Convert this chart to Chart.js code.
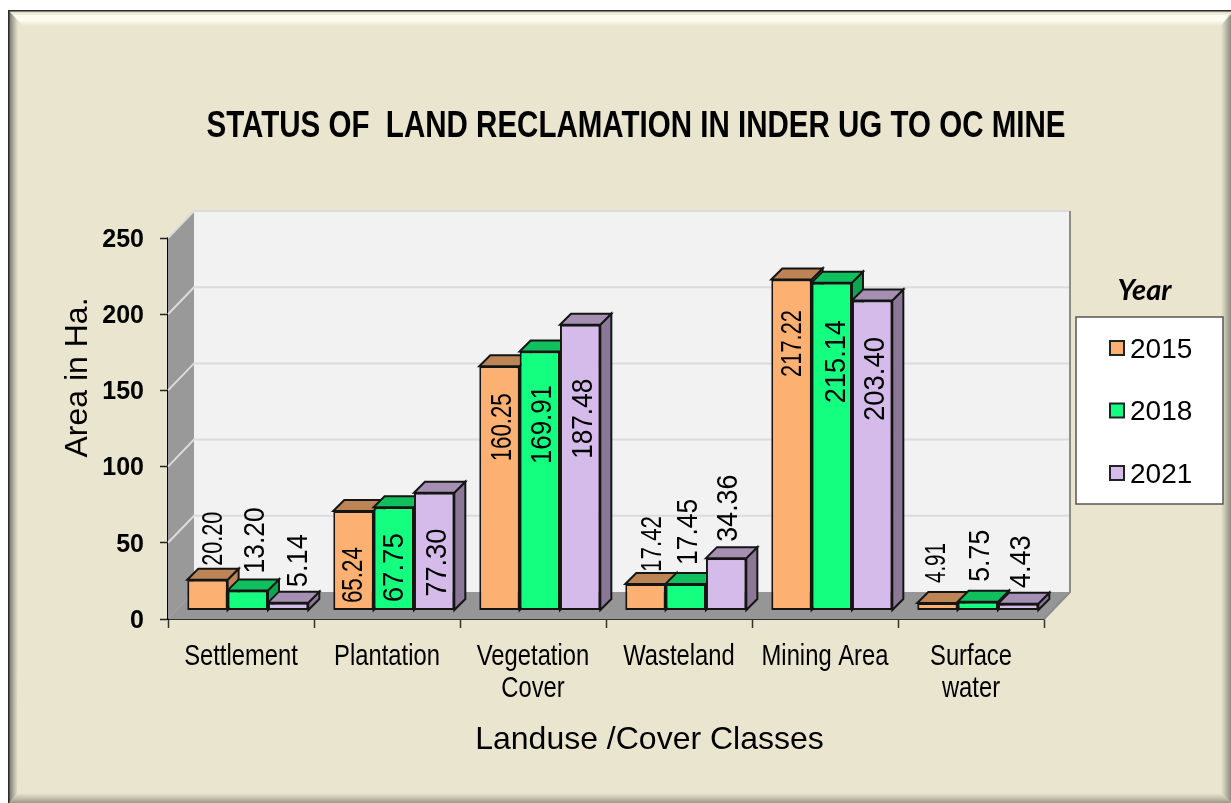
<!DOCTYPE html>
<html>
<head>
<meta charset="utf-8">
<title>Status of land reclamation</title>
<script src="https://cdn.jsdelivr.net/npm/chart.js@4"></script>
<style>
    html, body { margin: 0; padding: 0; background: #fff; }
    canvas { display: block; }
</style>
</head>
<body>
<canvas id="chart" width="1231" height="803"></canvas>
<script>
// Data
const categories = [['Settlement'], ['Plantation'], ['Vegetation', 'Cover'], ['Wasteland'], ['Mining Area'], ['Surface', 'water']];
const years = ['2015', '2018', '2021'];
const values2015 = [20.20, 65.24, 160.25, 17.42, 217.22, 4.91];
const values2018 = [13.20, 67.75, 169.91, 17.45, 215.14, 5.75];
const values2021 = [5.14, 77.30, 187.48, 34.36, 203.40, 4.43];
const yTicks = [0, 50, 100, 150, 200, 250];

const chartTitle = 'STATUS OF  LAND RECLAMATION IN INDER UG TO OC MINE';
const yTitle = 'Area in Ha.';
const xTitle = 'Landuse /Cover Classes';
const legendTitle = 'Year';

// Colours: front, top, side of each series
const front = ['#FCB173', '#14FF80', '#D5BBEA'];
const topFace = ['#BD8556', '#10C05F', '#A590B3'];
const sideFace = ['#BD8556', '#0DA650', '#8A7896'];

// The value labels were placed by hand in the original, so they are nudged
// from their bar: [dx, dy to bar top, text length]
const labelNudge = [
    [[5, -41, 54], [-1.5, 64, 56], [1.5, 61, 68], [5.5, -40, 56], [0, 64, 67], [-2.5, -40, 40]],
    [[6, -50, 66], [-1, 60.5, 69], [1, 73, 79], [1, -52, 66], [3, 79, 83], [1, -46, 52]],
    [[9, -42, 53], [2, 70, 68], [2, 94, 80], [1, -50, 67], [2, 78.5, 84], [2, -42, 53]]
];

const sansFont = '"Liberation Sans", Arial, sans-serif';

// 3D look: how far the back wall and the bars are pushed
const wall = { dx: 26, dy: -27 };
const barShift = { dx: 6.8, dy: -8.5 };
const barDepth = 11;
const barLine = 2;

function fillPoly(ctx, pts, fill, stroke, lineWidth) {
    ctx.beginPath();
    pts.forEach((p, i) => i ? ctx.lineTo(p[0], p[1]) : ctx.moveTo(p[0], p[1]));
    ctx.closePath();
    if (fill) {
        ctx.fillStyle = fill;
        ctx.fill();
    }
    if (stroke) {
        ctx.strokeStyle = stroke;
        ctx.lineWidth = lineWidth || 1;
        ctx.stroke();
    }
}

function band(ctx, pts, x0, y0, x1, y1, stops) {
    const g = ctx.createLinearGradient(x0, y0, x1, y1);
    stops.forEach(s => g.addColorStop(s[0], s[1]));
    fillPoly(ctx, pts, g);
}

// Text squeezed sideways, the source image has narrow lettering
function narrowText(ctx, text, x, y, squeeze) {
    ctx.save();
    ctx.translate(x, y);
    ctx.scale(squeeze, 1);
    ctx.fillText(text, 0, 0);
    ctx.restore();
}

// Beveled panel behind everything
const panelPlugin = {
    id: 'panel',
    beforeDraw(chart) {
        const ctx = chart.ctx;
        const base = '#EAE5CF';
        ctx.save();
        ctx.fillStyle = '#fff';
        ctx.fillRect(0, 0, 1231, 803);
        ctx.fillStyle = base;
        ctx.fillRect(9, 11, 1222, 792);
        band(ctx, [[9, 11], [1231, 11], [1221, 26], [23, 26]], 0, 11, 0, 26,
            [[0, '#D6D2B8'], [0.3, '#FDFBEA'], [0.6, '#FFFEF4'], [1, base]]);
        band(ctx, [[9, 11], [23, 26], [17, 795], [9, 803]], 9, 0, 18, 0,
            [[0, '#75736A'], [0.5, '#B3B09E'], [1, base]]);
        band(ctx, [[1231, 14], [1221, 26], [1221, 793], [1231, 803]], 1221, 0, 1231, 0,
            [[0, base], [0.5, '#BDBAA8'], [1, '#8E8C80']]);
        band(ctx, [[9, 803], [17, 793], [1221, 793], [1231, 803]], 0, 793, 0, 803,
            [[0, base], [0.5, '#C6C3B0'], [1, '#9A9888']]);
        // thin dark outline on the top and left
        ctx.fillStyle = '#2b2b2b';
        ctx.fillRect(8, 10, 1223, 1.5);
        ctx.fillRect(8, 10, 1.5, 793);
        ctx.restore();
    }
};

// Walls, floor, gridlines, then the top and side faces of the bars
const depthPlugin = {
    id: 'depth',
    beforeDatasetsDraw(chart) {
        const ctx = chart.ctx;
        const a = chart.chartArea;
        const y = chart.scales.y;
        const d = wall;

        ctx.save();
        fillPoly(ctx, [[a.left + d.dx, a.top + d.dy], [a.right + d.dx, a.top + d.dy], [a.right + d.dx, a.bottom + d.dy], [a.left + d.dx, a.bottom + d.dy]], '#F2F2F2');
        fillPoly(ctx, [[a.left, a.top], [a.left + d.dx, a.top + d.dy], [a.left + d.dx, a.bottom + d.dy], [a.left, a.bottom]], '#999999');
        fillPoly(ctx, [[a.left, a.bottom], [a.left + d.dx, a.bottom + d.dy], [a.right + d.dx, a.bottom + d.dy], [a.right, a.bottom]], '#969696');

        ctx.lineWidth = 2;
        yTicks.forEach(v => {
            const py = y.getPixelForValue(v);
            if (v > 0) {
                ctx.strokeStyle = '#DCDCDC';
                ctx.beginPath();
                ctx.moveTo(a.left, py);
                ctx.lineTo(a.left + d.dx, py + d.dy);
                ctx.lineTo(a.right + d.dx, py + d.dy);
                ctx.stroke();
            }
        });
        ctx.strokeStyle = '#8C8C8C';
        ctx.beginPath();
        ctx.moveTo(a.right + d.dx, a.top + d.dy);
        ctx.lineTo(a.right + d.dx, a.bottom + d.dy);
        ctx.lineTo(a.right, a.bottom);
        ctx.stroke();

        // bars are moved back off the front edge of the floor
        ctx.translate(barShift.dx, barShift.dy);
        categories.forEach((c, i) => {
            chart.data.datasets.forEach((ds, k) => {
                const el = chart.getDatasetMeta(k).data[i];
                const l = el.x - el.width / 2;
                const r = el.x + el.width / 2;
                const t = el.y;
                const b = el.base;
                const n = barDepth;
                fillPoly(ctx, [[r, t], [r + n, t - n], [r + n, b - n], [r, b]], sideFace[k], '#151515', barLine);
                fillPoly(ctx, [[l, t], [l + n, t - n], [r + n, t - n], [r, t]], topFace[k], '#151515', barLine);
            });
        });
        // stays translated for the bars themselves
    },
    afterDatasetsDraw(chart) {
        const ctx = chart.ctx;
        ctx.restore();

        // value labels
        ctx.save();
        ctx.fillStyle = '#000';
        ctx.textAlign = 'center';
        ctx.textBaseline = 'middle';
        ctx.font = '29px ' + sansFont;
        chart.data.datasets.forEach((ds, k) => {
            chart.getDatasetMeta(k).data.forEach((el, i) => {
                const nudge = labelNudge[k][i];
                const text = ds.data[i].toFixed(2);
                ctx.save();
                ctx.translate(el.x + barShift.dx + nudge[0], el.y + barShift.dy + nudge[1]);
                ctx.rotate(-Math.PI / 2);
                ctx.scale(nudge[2] / ctx.measureText(text).width, 1);
                ctx.fillText(text, 0, 2);
                ctx.restore();
            });
        });
        ctx.restore();
    },
    afterDraw(chart) {
        const ctx = chart.ctx;
        ctx.save();
        ctx.fillStyle = '#000';
        ctx.textBaseline = 'middle';
        ctx.textAlign = 'center';

        // title
        ctx.font = 'bold 37px ' + sansFont;
        narrowText(ctx, chartTitle, 636, 127, 0.798);

        // category labels, from the x scale
        ctx.font = '29px ' + sansFont;
        categories.forEach((lines, i) => {
            lines.forEach((line, j) => {
                narrowText(ctx, line, chart.scales.x.getPixelForValue(i), 657 + j * 32, 0.82);
            });
        });

        // axis titles are off centre in the original
        ctx.font = '32px ' + sansFont;
        ctx.fillText(xTitle, 649.5, 740);
        ctx.save();
        ctx.translate(78, 377.5);
        ctx.rotate(-Math.PI / 2);
        ctx.fillText(yTitle, 0, 0);
        ctx.restore();

        // legend
        ctx.font = 'italic bold 29px Lato, sans-serif';
        ctx.fillText(legendTitle, 1144.5, 291);
        ctx.fillStyle = '#fff';
        ctx.fillRect(1076, 317, 147, 187);
        ctx.strokeStyle = '#555';
        ctx.lineWidth = 1.5;
        ctx.strokeRect(1076, 317, 147, 187);

        ctx.font = '28px ' + sansFont;
        ctx.textAlign = 'left';
        years.forEach((year, k) => {
            const ly = 348 + k * 62.5;
            ctx.fillStyle = front[k];
            ctx.strokeStyle = '#222';
            ctx.lineWidth = 2;
            ctx.fillRect(1110, ly - 7, 14, 14);
            ctx.strokeRect(1110, ly - 7, 14, 14);
            ctx.fillStyle = '#000';
            ctx.fillText(year, 1130, ly + 2);
        });
        ctx.restore();
    }
};

document.addEventListener('DOMContentLoaded', function () {
    const ctx = document.getElementById('chart').getContext('2d');
    const series = [values2015, values2018, values2021];

    new Chart(ctx, {
        type: 'bar',
        data: {
            labels: categories,
            datasets: years.map((year, k) => ({
                label: year,
                data: series[k],
                backgroundColor: front[k],
                borderColor: '#151515',
                borderWidth: barLine,
                borderSkipped: false,
                clip: false,
            })),
        },
        options: {
            responsive: false,
            animation: false,
            layout: { padding: { top: 238, left: 0, right: 187, bottom: 0 } },
            categoryPercentage: 0.829,
            barPercentage: 1,
            plugins: {
                legend: { display: false },
                tooltip: { enabled: false },
            },
            scales: {
                x: {
                    afterFit: s => { s.height = 184; },
                    grid: { drawOnChartArea: false, color: '#333', tickLength: 9, tickWidth: 1.5 },
                    border: { color: '#333', width: 2 },
                    ticks: { display: false },
                },
                y: {
                    min: 0,
                    max: 250,
                    afterFit: s => { s.width = 168; },
                    afterBuildTicks: s => { s.ticks = yTicks.map(v => ({ value: v })); },
                    grid: { drawOnChartArea: false, color: '#222', tickLength: 8, tickWidth: 1.5 },
                    border: { color: '#000', width: 2 },
                    ticks: {
                        color: '#000',
                        padding: 16,
                        labelOffset: 2,
                        font: { family: sansFont, size: 25, weight: 'bold' },
                    },
                },
            },
        },
        plugins: [panelPlugin, depthPlugin],
    });
});
</script>
</body>
</html>
